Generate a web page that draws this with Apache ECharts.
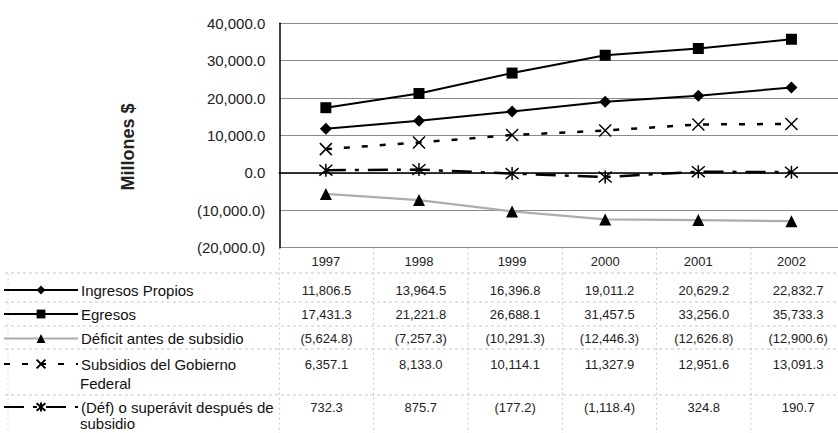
<!DOCTYPE html>
<html>
<head>
<meta charset="utf-8">
<script src="https://cdn.jsdelivr.net/npm/echarts@6/dist/echarts.min.js"></script>
<style>
  html, body { margin: 0; padding: 0; background: #fff; }
  #chart { width: 838px; height: 433px; }
</style>
</head>
<body>
<div id="chart"></div>
<script>
// ---- data ----
const categories = ['1997', '1998', '1999', '2000', '2001', '2002'];
const ingresosPropios = [11806.5, 13964.5, 16396.8, 19011.2, 20629.2, 22832.7];
const egresos = [17431.3, 21221.8, 26688.1, 31457.5, 33256.0, 35733.3];
const deficitAntes = [-5624.8, -7257.3, -10291.3, -12446.3, -12626.8, -12900.6];
const subsidios = [6357.1, 8133.0, 10114.1, 11327.9, 12951.6, 13091.3];
const superavitDespues = [732.3, 875.7, -177.2, -1118.4, 324.8, 190.7];
const yMin = -20000, yMax = 40000, yInterval = 10000;
const labelLines = [
  ['Ingresos Propios'],
  ['Egresos'],
  ['Déficit antes de subsidio'],
  ['Subsidios del Gobierno', 'Federal'],
  ['(Déf) o superávit después de', 'subsidio']
];

// ---- layout ----
const FONT = 'Arial, "Liberation Sans", sans-serif';
const L = 279.3, T = 23.3, W = 566, H = 224.4;
const colW = W / categories.length;
const rowY = [290, 314, 338.5, 364, 407];
const secondLineY = [null, null, null, 383, 423.5];
const hLines = [273, 302, 326, 349, 395];

function fmt(v) {
  const a = Math.abs(v);
  const parts = a.toFixed(1).split('.');
  parts[0] = parts[0].replace(/\B(?=(\d{3})+(?!\d))/g, ',');
  const s = parts.join('.');
  return v < 0 ? '(' + s + ')' : s;
}

const names = labelLines.map(l => l.join(' '));
const seriesData = [ingresosPropios, egresos, deficitAntes, subsidios, superavitDespues];

const series = [
  {
    name: names[0], type: 'line', data: ingresosPropios,
    symbol: 'diamond', symbolSize: 12,
    lineStyle: { color: '#000', width: 2 },
    itemStyle: { color: '#000' }
  },
  {
    name: names[1], type: 'line', data: egresos,
    symbol: 'rect', symbolSize: 11,
    lineStyle: { color: '#000', width: 2 },
    itemStyle: { color: '#000' }
  },
  {
    name: names[2], type: 'line', data: deficitAntes,
    symbol: 'triangle', symbolSize: 12,
    lineStyle: { color: '#adadad', width: 2.2 },
    itemStyle: { color: '#000' }
  },
  {
    name: names[3], type: 'line', data: subsidios,
    symbol: 'path://M0,0L10,10M10,0L0,10', symbolSize: 12,
    lineStyle: { color: '#000', width: 2.5, type: [6, 12] },
    itemStyle: { color: 'rgba(0,0,0,0)', borderColor: '#000', borderWidth: 1.5 }
  },
  {
    name: names[4], type: 'line', data: superavitDespues,
    symbol: 'path://M0,1L10,11M10,1L0,11M5,0L5,12', symbolSize: 13,
    lineStyle: { color: '#000', width: 2.5, type: [20, 9, 4, 9] },
    itemStyle: { color: 'rgba(0,0,0,0)', borderColor: '#000', borderWidth: 1.5 }
  }
];

const legends = names.map((n, i) => ({
  data: [n],
  left: 3,
  top: rowY[i] - 9,
  padding: 0,
  itemWidth: 74,
  itemHeight: 11,
  itemGap: 0,
  selectedMode: false,
  textStyle: { fontFamily: FONT, fontSize: 15, color: '#111', lineHeight: 18, padding: [0, 0, 0, -2] },
  formatter: () => labelLines[i][0]
}));

const graphic = [];
// table grid lines
hLines.forEach(y => {
  graphic.push({ type: 'line', silent: true, shape: { x1: 5, y1: y, x2: 838, y2: y },
    style: { stroke: '#c4c4c4', lineWidth: 1, lineDash: [3, 3] } });
});
for (let i = 0; i <= categories.length; i++) {
  const x = L + i * colW;
  graphic.push({ type: 'line', silent: true, shape: { x1: x, y1: T + H, x2: x, y2: 433 },
    style: { stroke: '#c4c4c4', lineWidth: 1, lineDash: [2, 3] } });
}
graphic.push({ type: 'line', silent: true, shape: { x1: 8, y1: 273, x2: 8, y2: 433 },
  style: { stroke: '#d8d8d8', lineWidth: 1, lineDash: [2, 3] } });
// second lines of the row labels
secondLineY.forEach((y, i) => {
  if (y == null) return;
  graphic.push({ type: 'text', silent: true, x: 80, y: y,
    style: { text: labelLines[i][1], font: '15px ' + FONT, fill: '#111', align: 'left', verticalAlign: 'middle' } });
});
// table values
seriesData.forEach((arr, r) => {
  arr.forEach((v, c) => {
    graphic.push({ type: 'text', silent: true, x: L + (c + 0.5) * colW, y: rowY[r],
      style: { text: fmt(v), font: '13px ' + FONT, fill: '#222', align: 'center', verticalAlign: 'middle' } });
  });
});

const chart = echarts.init(document.getElementById('chart'), null, { renderer: 'svg' });
chart.setOption({
  backgroundColor: '#fff',
  animation: false,
  grid: { left: L, top: T, width: W, height: H, containLabel: false },
  xAxis: {
    type: 'category', data: categories, boundaryGap: true,
    axisLine: { lineStyle: { color: '#000', width: 1.5 } },
    axisTick: { show: false },
    axisLabel: { fontFamily: FONT, fontSize: 13, color: '#222', margin: 7 },
    splitLine: { show: false }
  },
  yAxis: {
    type: 'value', min: yMin, max: yMax, interval: yInterval,
    name: 'Millones $', nameLocation: 'middle', nameRotate: 90, nameGap: 142,
    nameTextStyle: { fontFamily: FONT, fontSize: 18, fontWeight: 'bold', color: '#222', padding: [0, 23, 0, 0] },
    axisLine: { show: true, lineStyle: { color: '#000', width: 1.5 } },
    axisTick: { show: false },
    axisLabel: { fontFamily: FONT, fontSize: 15, color: '#222', margin: 14, formatter: v => fmt(v) },
    splitLine: { lineStyle: { color: '#8a8a8a', width: 1 } }
  },
  legend: legends,
  graphic: graphic,
  series: series
});
</script>
</body>
</html>
